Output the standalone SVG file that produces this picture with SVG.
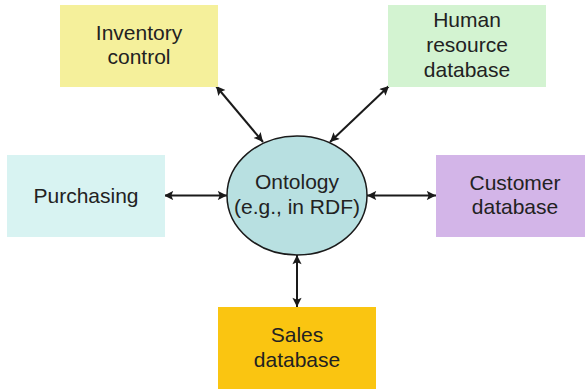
<svg xmlns="http://www.w3.org/2000/svg" width="586" height="389" viewBox="0 0 586 389">
  <defs>
    <marker id="head" viewBox="0 0 10 10" refX="10" refY="5" markerWidth="5" markerHeight="4.6" orient="auto-start-reverse" markerUnits="strokeWidth">
      <path d="M0,0 L10,5 L0,10 L2,5 Z" fill="#1a1a1a"/>
    </marker>
  </defs>
  <style>
    .lbl { font-family: "Liberation Sans", Arial, sans-serif; font-size: 21px; fill: #222; text-anchor: middle; }
    .link { stroke: #1a1a1a; stroke-width: 2; fill: none; marker-start: url(#head); marker-end: url(#head); }
  </style>
  <rect width="586" height="389" fill="#ffffff"/>

  <g id="connectors">
    <line class="link" x1="216" y1="86" x2="263" y2="142"/>
    <line class="link" x1="389" y1="86" x2="330" y2="142"/>
    <line class="link" x1="164" y1="195.5" x2="227" y2="195.5"/>
    <line class="link" x1="367" y1="195.5" x2="436" y2="195.5"/>
    <line class="link" x1="297" y1="255" x2="297" y2="307"/>
  </g>

  <g id="inventory">
    <rect x="60" y="5" width="158" height="82" fill="#F5F09B"/>
    <text class="lbl" x="139" y="40">Inventory</text>
    <text class="lbl" x="139" y="64">control</text>
  </g>

  <g id="human-resource">
    <rect x="388" y="5" width="158" height="82" fill="#D3F3D1"/>
    <text class="lbl" x="467" y="27">Human</text>
    <text class="lbl" x="467" y="52">resource</text>
    <text class="lbl" x="467" y="77">database</text>
  </g>

  <g id="purchasing">
    <rect x="7" y="155" width="158" height="82" fill="#D8F3F2"/>
    <text class="lbl" x="86" y="203">Purchasing</text>
  </g>

  <g id="customer">
    <rect x="436" y="155" width="149" height="82" fill="#D3B5E8"/>
    <text class="lbl" x="515" y="190">Customer</text>
    <text class="lbl" x="515" y="214">database</text>
  </g>

  <g id="ontology">
    <ellipse cx="297" cy="195.5" rx="70" ry="59.5" fill="#B8E0E1" stroke="#1a1a1a" stroke-width="1.5"/>
    <text class="lbl" x="297" y="189">Ontology</text>
    <text class="lbl" x="297" y="214">(e.g., in RDF)</text>
  </g>

  <g id="sales">
    <rect x="218" y="307" width="158" height="82" fill="#FAC511"/>
    <text class="lbl" x="297" y="342">Sales</text>
    <text class="lbl" x="297" y="367">database</text>
  </g>
</svg>
